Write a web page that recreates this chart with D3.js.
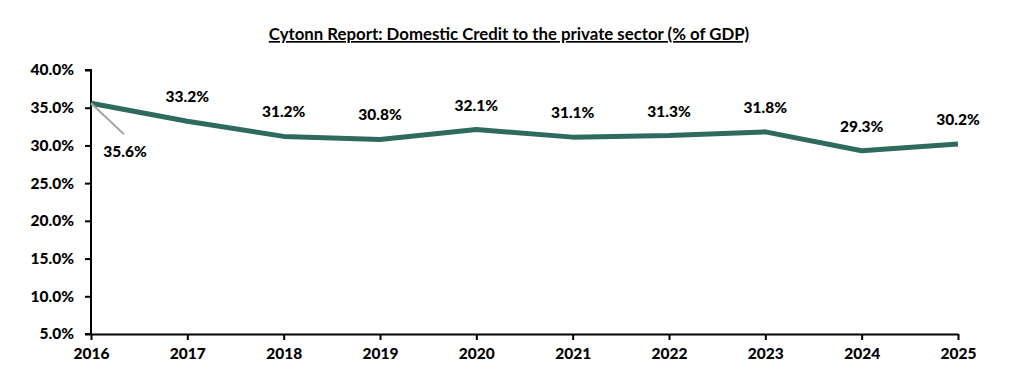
<!DOCTYPE html>
<html><head><meta charset="utf-8">
<script src="https://cdn.jsdelivr.net/npm/d3@7"></script>
<style>body{margin:0;background:#fff}svg{display:block}text{font-family:Lato,"Open Sans",sans-serif;font-weight:900;fill:#000}</style>
</head><body><svg id="c" width="1012" height="378"></svg>
<script>
const years = ["2016","2017","2018","2019","2020","2021","2022","2023","2024","2025"];
const values = [35.6,33.2,31.2,30.8,32.1,31.1,31.3,31.8,29.3,30.2];
const yTicks = [5,10,15,20,25,30,35,40];
const title = "Cytonn Report: Domestic Credit to the private sector (% of GDP)";

const svg = d3.select("#c");
const x = d3.scalePoint().domain(years).range([91,958]);
const y = d3.scaleLinear().domain([5,40]).range([334,70]);

svg.append("text").attr("x",509).attr("y",40).attr("text-anchor","middle")
  .style("font-size","16.8px").style("font-weight","bold").style("text-decoration","underline").text(title);

const ya = svg.append("g").attr("transform","translate(91,0)")
  .call(d3.axisLeft(y).tickValues(yTicks).tickSize(6).tickFormat(d=>d.toFixed(1)+"%"));
ya.select(".domain").attr("stroke","#000").attr("stroke-width",2).attr("d","M-6,70H0V334H-6");
ya.selectAll(".tick line").attr("stroke","#000").attr("stroke-width",2);
ya.selectAll(".tick text").attr("x",-17).style("font-size","15.5px").style("font-family","Lato,sans-serif").attr("fill","#000");

const xa = svg.append("g").attr("transform","translate(0,334)")
  .call(d3.axisBottom(x).tickSize(6).tickSizeOuter(0));
xa.select(".domain").attr("stroke","#000").attr("stroke-width",2);
xa.selectAll(".tick line").attr("stroke","#000").attr("stroke-width",2);
xa.selectAll(".tick text").attr("y",14).style("font-size","15.5px").style("font-family","Lato,sans-serif").attr("fill","#000");

svg.append("path").datum(values)
  .attr("fill","none").attr("stroke","#2e6b5e").attr("stroke-width",5).attr("stroke-linejoin","round")
  .attr("d",d3.line().x((d,i)=>x(years[i])).y(d=>y(d)));

// leader line for first label
svg.append("line").attr("x1",x(years[0])).attr("y1",y(values[0])).attr("x2",x(years[0])+33).attr("y2",y(values[0])+31)
  .attr("stroke","#a6a6a6").attr("stroke-width",2);

svg.selectAll(".lbl").data(values).enter().append("text").attr("class","lbl")
  .attr("text-anchor","middle").style("font-size","15.5px")
  .attr("x",(d,i)=> i===0 ? x(years[i])+34 : x(years[i]))
  .attr("y",(d,i)=> i===0 ? y(d)+54 : y(d)-19)
  .text(d=>d.toFixed(1)+"%");
</script></body></html>
